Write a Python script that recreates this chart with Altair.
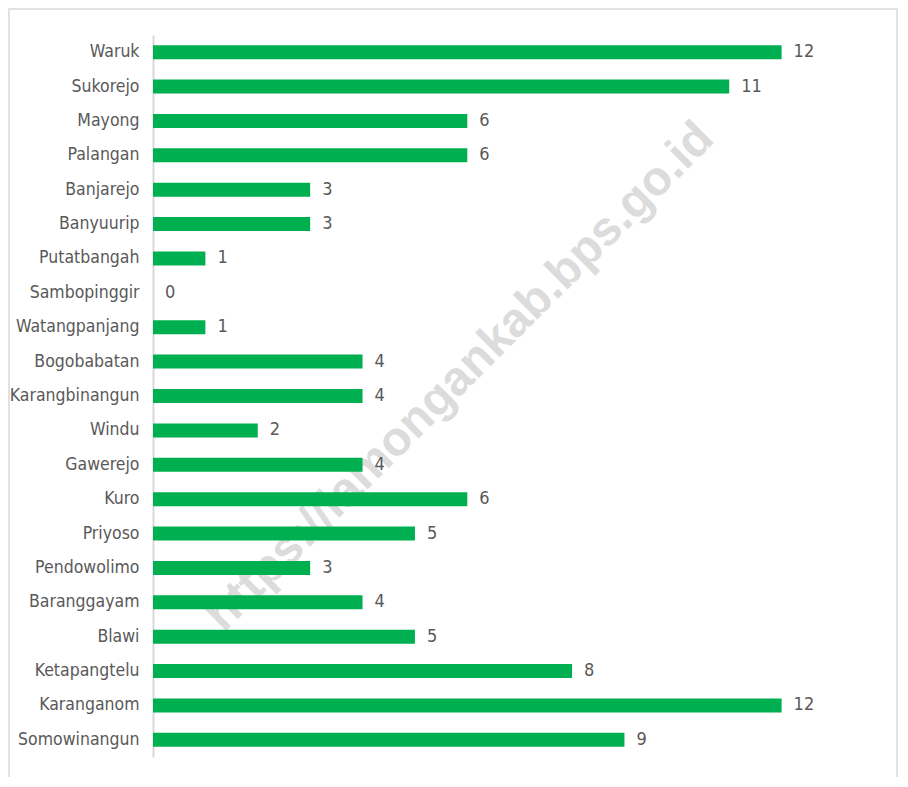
import altair as alt
import pandas as pd

villages = ["Waruk", "Sukorejo", "Mayong", "Palangan", "Banjarejo", "Banyuurip",
            "Putatbangah", "Sambopinggir", "Watangpanjang", "Bogobabatan",
            "Karangbinangun", "Windu", "Gawerejo", "Kuro", "Priyoso",
            "Pendowolimo", "Baranggayam", "Blawi", "Ketapangtelu", "Karanganom",
            "Somowinangun"]
values = [12, 11, 6, 6, 3, 3, 1, 0, 1, 4, 4, 2, 4, 6, 5, 3, 4, 5, 8, 12, 9]
watermark = "https://lamongankab.bps.go.id"

df = pd.DataFrame({"village": villages, "value": values})

FONT = "'DejaVu Sans Condensed', 'Liberation Sans', sans-serif"
GREEN = "#00B050"
GRAY = "#595959"

W, H = 681, 722

y_enc = alt.Y("village:N", sort=villages,
              scale=alt.Scale(paddingInner=0.593, paddingOuter=0.2965),
              axis=alt.Axis(title=None, ticks=False, labelPadding=14,
                            labelFont=FONT, labelFontSize=17.5, labelColor=GRAY,
                            domainColor="#d9d9d9", domainWidth=2, grid=False))
x_enc = alt.X("value:Q", scale=alt.Scale(domain=[0, 13], nice=False), axis=None)

frame = alt.Chart(pd.DataFrame({"a": [0]})).mark_rect(
    fill=None, stroke="#d9d9d9", strokeWidth=1.5
).encode(x=alt.value(-144), x2=alt.value(W + 63), y=alt.value(-26), y2=alt.value(H + 80))

wm = alt.Chart(pd.DataFrame({"t": [watermark]})).mark_text(
    font="Liberation Sans", fontWeight="bold", fontSize=48, angle=315,
    color="#dcdcdc", align="center", baseline="middle"
).encode(text="t:N", x=alt.value(307), y=alt.value(342))

bars = alt.Chart(df).mark_bar(color=GREEN).encode(x=x_enc, y=y_enc)
labels = alt.Chart(df).mark_text(
    align="left", baseline="middle", dx=12, font=FONT, fontSize=18, color=GRAY
).encode(x=x_enc, y=y_enc, text="value:Q")

chart = alt.layer(frame, wm, bars, labels).properties(
    width=W, height=H,
    autosize=alt.AutoSizeParams(type="none"),
    padding={"left": 145, "top": 27, "right": 64, "bottom": 20},
).configure(background="white", view=alt.ViewConfig(strokeWidth=0, stroke="transparent"))

chart.save("out.html", embed_options={"renderer": "svg", "actions": False})
